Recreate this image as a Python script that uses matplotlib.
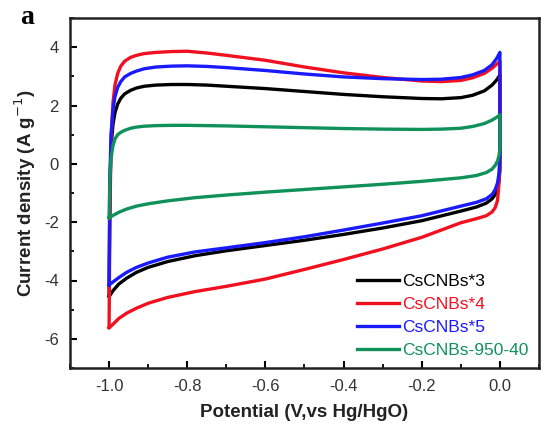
import matplotlib
matplotlib.use("Agg")
import matplotlib.pyplot as plt
from matplotlib.ticker import MultipleLocator

plt.rcParams['font.family'] = ['Liberation Sans', 'DejaVu Sans']

labels = ["CsCNBs*3", "CsCNBs*4", "CsCNBs*5", "CsCNBs-950-40"]
colors = ["#000000", "#f01020", "#1a1aff", "#10915a"]

# potentials along each closed CV loop: anodic branch (-1 -> 0) then cathodic branch (0 -> -1)
pot_loop = [-1.0, -0.998, -0.995, -0.99, -0.985, -0.978, -0.97, -0.96, -0.945, -0.93, -0.91, -0.88, -0.84, -0.8,
            -0.75, -0.7, -0.6, -0.5, -0.4, -0.3, -0.2, -0.15, -0.1, -0.07, -0.04, -0.02, -0.008, 0.0,
            0.0, -0.002, -0.006, -0.012, -0.02, -0.035, -0.06, -0.1, -0.2, -0.3, -0.4, -0.5, -0.6, -0.7,
            -0.78, -0.85, -0.9, -0.93, -0.955, -0.975, -0.99, -1.0]

cur_s3 = [-4.5, -1.0, 0.6, 1.35, 1.75, 2.05, 2.25, 2.4, 2.52, 2.6, 2.66, 2.7, 2.72, 2.72,
          2.7, 2.66, 2.58, 2.48, 2.38, 2.3, 2.24, 2.23, 2.27, 2.35, 2.5, 2.7, 2.88, 3.05,
          -0.2, -0.55, -0.85, -1.05, -1.2, -1.35, -1.48, -1.62, -1.95, -2.2, -2.42, -2.62, -2.8, -2.98,
          -3.15, -3.35, -3.55, -3.72, -3.92, -4.12, -4.35, -4.55]

cur_s4 = [-5.6, -2.0, 0.8, 2.1, 2.7, 3.1, 3.35, 3.52, 3.65, 3.72, 3.78, 3.82, 3.85, 3.86,
          3.8, 3.72, 3.55, 3.32, 3.12, 2.96, 2.84, 2.82, 2.86, 2.95, 3.1, 3.28, 3.42, 3.52,
          0.4, -0.6, -1.25, -1.5, -1.65, -1.78, -1.88, -2.02, -2.52, -2.92, -3.28, -3.62, -3.95, -4.2,
          -4.38, -4.58, -4.78, -4.95, -5.12, -5.3, -5.5, -5.62]

cur_s5 = [-4.15, -0.5, 1.0, 1.85, 2.3, 2.62, 2.82, 2.98, 3.1, 3.18, 3.26, 3.32, 3.35, 3.36,
          3.34, 3.3, 3.2, 3.08, 2.98, 2.92, 2.89, 2.9, 2.96, 3.05, 3.2, 3.4, 3.62, 3.82,
          0.3, -0.3, -0.65, -0.88, -1.05, -1.2, -1.32, -1.45, -1.78, -2.03, -2.27, -2.5, -2.7, -2.88,
          -3.02, -3.2, -3.4, -3.55, -3.72, -3.9, -4.05, -4.15]

cur_950 = [-1.85, -0.5, 0.2, 0.62, 0.85, 1.0, 1.08, 1.15, 1.22, 1.26, 1.29, 1.31, 1.32, 1.32,
           1.31, 1.3, 1.27, 1.24, 1.21, 1.19, 1.18, 1.19, 1.22, 1.28, 1.38, 1.5, 1.6, 1.68,
           0.55, 0.3, 0.1, -0.05, -0.18, -0.3, -0.4, -0.48, -0.6, -0.7, -0.79, -0.88, -0.97, -1.07,
           -1.16, -1.27, -1.37, -1.45, -1.55, -1.66, -1.77, -1.85]

curs = [cur_s3, cur_s4, cur_s5, cur_950]

xticks = [-1.0, -0.8, -0.6, -0.4, -0.2, 0.0]
yticks = [-6, -4, -2, 0, 2, 4]

fig = plt.figure(figsize=(5.41, 4.24), dpi=100)
ax = fig.add_axes([70 / 541, 1 - 368 / 424, (539 - 70) / 541, (368 - 18) / 424])

for c, col, lab in zip(curs, colors, labels):
    ax.plot(pot_loop, c, color=col, lw=2.4, label=lab, solid_joinstyle='round')

ax.set_xlim(-1.1, 0.1)
ax.set_ylim(-7, 5)
ax.set_xticks(xticks)
ax.set_xticklabels([f"{v:.1f}" for v in xticks])
ax.set_yticks(yticks)
ax.set_yticklabels([str(v) for v in yticks])
ax.xaxis.set_minor_locator(MultipleLocator(0.1))
ax.yaxis.set_minor_locator(MultipleLocator(1))
ax.tick_params(which='major', direction='in', length=5, width=1.5, labelsize=12,
               labelcolor='#333333', top=False, right=False, pad=8)
ax.tick_params(which='minor', direction='in', length=3, width=1.3, top=False, right=False)
for s in ax.spines.values():
    s.set_linewidth(1.8)
    s.set_color('#222222')

ax.set_xlabel("Potential (V,vs Hg/HgO)", fontsize=13.5, fontweight='bold', color='#222222', labelpad=7)
ax.set_ylabel("Current density (A g$^{-1}$)", fontsize=13.5, fontweight='bold', color='#222222', labelpad=4)

leg = ax.legend(loc='lower right', frameon=False, fontsize=12.5, handlelength=2.4,
                handletextpad=0.15, labelspacing=0.45, bbox_to_anchor=(1.01, -0.015))
for t, col in zip(leg.get_texts(), colors):
    t.set_color(col)

fig.text(20 / 541, 1 - 18 / 424, "a", fontsize=20, fontweight='bold',
         family=['Liberation Serif', 'DejaVu Serif'], ha='left', va='center')

fig.savefig("out.png", dpi=100)
